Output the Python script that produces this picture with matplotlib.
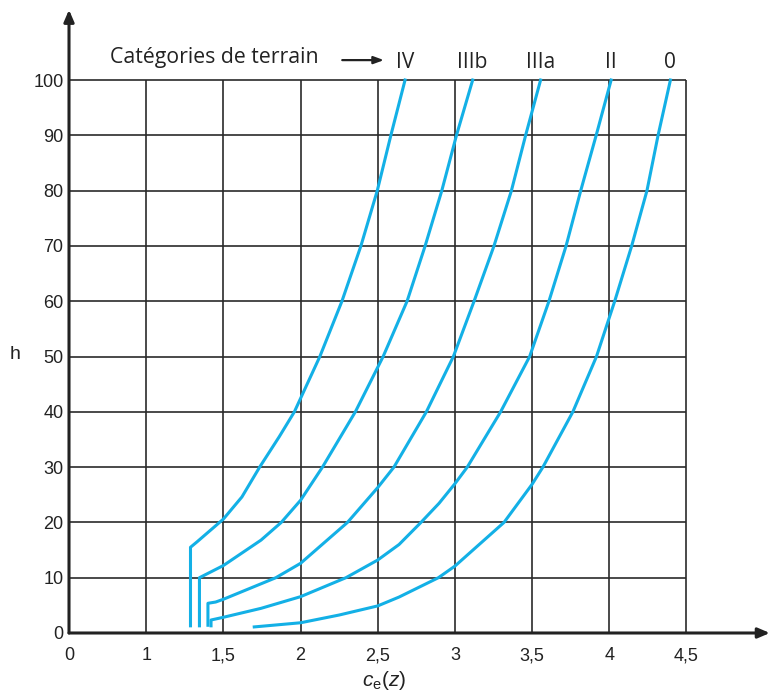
import matplotlib
matplotlib.use("Agg")
import matplotlib.pyplot as plt

plt.rcParams["font.family"] = ["Liberation Sans", "DejaVu Sans"]
plt.rcParams["mathtext.fontset"] = "custom"
plt.rcParams["mathtext.rm"] = "Liberation Sans"
plt.rcParams["mathtext.it"] = "Liberation Sans:italic"

# terrain categories: c_e(z) against height h
categories = ["IV", "IIIb", "IIIa", "II", "0"]

ce_IV = [1.287, 1.287, 1.33, 1.5, 1.62, 1.735, 1.862, 1.96, 2.125, 2.268, 2.391, 2.497, 2.585, 2.677]
h_IV = [1.3, 15.5, 16.5, 20.6, 24.6, 30, 35.5, 40, 50, 60, 70, 80, 90, 100]

ce_IIIb = [1.345, 1.345, 1.5, 1.744, 1.875, 2.0, 2.142, 2.355, 2.535, 2.69, 2.807, 2.915, 3.01, 3.115]
h_IIIb = [1.3, 10, 12.2, 16.8, 20, 24.0, 30, 40, 50, 60, 70, 80, 90, 100]

ce_IIIa = [1.40, 1.40, 1.45, 1.5, 1.84, 2.0, 2.304, 2.5, 2.605, 2.815, 2.99, 3.124, 3.253, 3.366, 3.458, 3.555]
h_IIIa = [1.4, 5.37, 5.6, 6.1, 10, 12.6, 20, 26.3, 30, 40, 50, 60, 70, 80, 90, 100]

ce_II = [1.42, 1.42, 1.5, 1.744, 2.0, 2.294, 2.5, 2.638, 2.78, 2.897, 3.0, 3.08, 3.296, 3.484, 3.609, 3.72, 3.815, 3.915, 4.012]
h_II = [1.3, 2.35, 2.84, 4.46, 6.57, 10, 13.2, 16.0, 20, 23.45, 27.0, 30, 40, 50, 60, 70, 80, 90, 100]

ce_0 = [1.70, 2.0, 2.25, 2.5, 2.638, 2.893, 3.0, 3.318, 3.5, 3.57, 3.764, 3.917, 4.035, 4.145, 4.244, 4.316, 4.396]
h_0 = [1.1, 1.85, 3.25, 4.9, 6.5, 10, 12.1, 20, 26.9, 30, 40, 50, 60, 70, 80, 90, 100]

curves = [(ce_IV, h_IV), (ce_IIIb, h_IIIb), (ce_IIIa, h_IIIa), (ce_II, h_II), (ce_0, h_0)]

# the axis is broken between 0 and 1: "0" is drawn half a unit left of "1"
x_origin = 0.5
x_grid = [1, 1.5, 2, 2.5, 3, 3.5, 4, 4.5]
x_labels = ["0", "1", "1,5", "2", "2,5", "3", "3,5", "4", "4,5"]
h_grid = [10, 20, 30, 40, 50, 60, 70, 80, 90, 100]
h_labels = ["0"] + [str(v) for v in h_grid]

blue = "#13b0e6"
ink = "#222222"

fig = plt.figure(figsize=(7.71, 6.94), dpi=100)
ax = fig.add_axes([0.0895, 0.0879, 0.909, 0.898])
ax.set_xlim(x_origin, 5.04)
ax.set_ylim(0, 112.7)
for s in ax.spines.values():
    s.set_visible(False)

# grid + frame
ax.vlines(x_grid, 0, h_grid[-1], color="#2a2a2a", lw=1.2, zorder=1)
ax.hlines(h_grid, x_origin, x_grid[-1], color="#2a2a2a", lw=1.2, zorder=1)

# axes with arrows
arrow = dict(arrowstyle="-|>,head_length=0.7,head_width=0.3", color=ink, lw=2.2, shrinkA=0, shrinkB=0)
ax.annotate("", xy=(5.04, 0), xytext=(x_origin, 0), arrowprops=arrow, annotation_clip=False, zorder=3)
ax.annotate("", xy=(x_origin, 112.7), xytext=(x_origin, 0), arrowprops=arrow, annotation_clip=False, zorder=3)

for xs, hs in curves:
    ax.plot(xs, hs, color=blue, lw=2.2, solid_joinstyle="round", zorder=2)

ax.set_xticks([])
for pos, lbl in zip([x_origin] + x_grid, x_labels):
    ax.text(pos, -4.9, lbl, fontsize=13, ha="center", va="baseline", color=ink)
ax.set_yticks([0] + h_grid)
ax.set_yticklabels(h_labels)
ax.tick_params(length=0, labelsize=13, colors=ink)
ax.tick_params(axis="y", pad=4)

ax.text(2.54, -8.6, r"$c_\mathrm{e}(z)$", fontsize=15, ha="center", va="center", color=ink)
ax.text(0.15, 50.3, "h", fontsize=14, ha="center", va="center", color=ink)

# curve labels along the top
ax.text(0.763, 103.1, "Catégories de terrain", fontsize=15.3, ha="left", va="baseline",
        color=ink, family=["Open Sans", "DejaVu Sans"])
ax.annotate("", xy=(2.54, 103.6), xytext=(2.27, 103.6),
            arrowprops=dict(arrowstyle="-|>,head_length=0.6,head_width=0.22", color=ink, lw=1.6, shrinkA=0, shrinkB=0),
            annotation_clip=False)
for name, (xs, hs) in zip(categories, curves):
    ax.text(xs[-1], 102.2, name, fontsize=15, ha="center", va="baseline",
            color=ink, family=["Open Sans", "DejaVu Sans"])

fig.savefig("out.png", dpi=100)
